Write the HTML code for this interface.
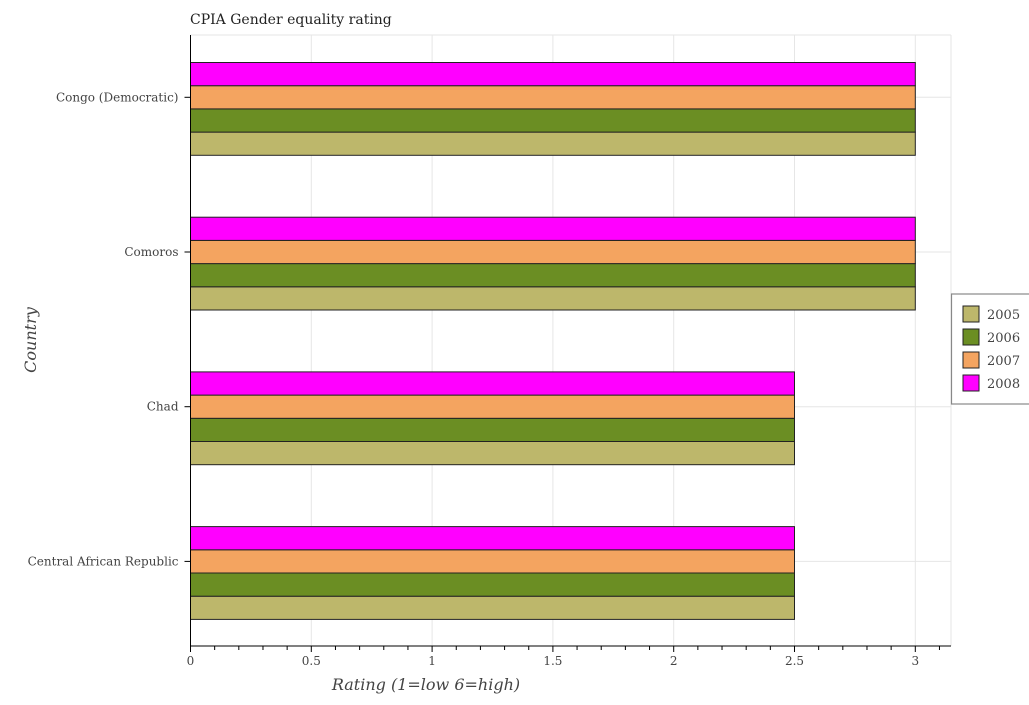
<!DOCTYPE html>
<html><head><meta charset="utf-8"><style>
body{margin:0;background:#fff;font-family:"Liberation Serif",serif;}
svg text{font-family:"DejaVu Serif","Liberation Serif",serif;fill:#444;}
</style></head><body>
<svg width="1029" height="700" xmlns="http://www.w3.org/2000/svg">
<text x="190" y="24" font-size="14" style="fill:#222">CPIA Gender equality rating</text>
<g id="grid"></g><g id="bars"></g><g id="axes"></g><g id="legend"></g>
<text x="426" y="690" font-size="16" font-style="italic" text-anchor="middle">Rating (1=low 6=high)</text>
<text x="36" y="340" font-size="16" font-style="italic" text-anchor="middle" transform="rotate(-90 36 340)">Country</text>
</svg>
<script>
const countries=["Congo (Democratic)","Comoros","Chad","Central African Republic"];
const years=["2005","2006","2007","2008"];
const v2005=[3,3,2.5,2.5];
const v2006=[3,3,2.5,2.5];
const v2007=[3,3,2.5,2.5];
const v2008=[3,3,2.5,2.5];
const xTicks=[0,0.5,1,1.5,2,2.5,3];
const xTickLabels=["0","0.5","1","1.5","2","2.5","3"];
const colors=["#bdb76b","#6b8e23","#f4a460","#ff00ff"];
const series=[v2005,v2006,v2007,v2008];
const NS="http://www.w3.org/2000/svg";
const X0=190.5,UNIT=241.6,TOP=35,BOT=646,RIGHT=951;
const x=v=>X0+v*UNIT;
const band=154.7;
const barH=23.2;
const tickY=i=>97.3+band*i;
function mk(t,a,p){const e=document.createElementNS(NS,t);for(const k in a)e.setAttribute(k,a[k]);p.appendChild(e);return e;}
const grid=document.getElementById('grid'),bars=document.getElementById('bars'),axes=document.getElementById('axes'),lg=document.getElementById('legend');
for(let v=0;v<=3.2;v+=0.5){if(x(v)<=RIGHT){const l=mk('line',{x1:x(v),x2:x(v),y1:TOP,y2:BOT,stroke:'#e6e6e6'},grid);

}}
mk('line',{x1:RIGHT,x2:RIGHT,y1:TOP,y2:BOT,stroke:'#e6e6e6'},grid);
mk('line',{x1:X0,x2:RIGHT,y1:TOP,y2:TOP,stroke:'#e6e6e6'},grid);
countries.forEach((c,i)=>{const l=mk('line',{x1:X0,x2:RIGHT,y1:tickY(i),y2:tickY(i),stroke:'#e6e6e6'},grid);


const g0=tickY(i)-1.5*barH;
for(let s=0;s<4;s++){const y=g0+(3-s)*barH;
const r=mk('rect',{x:X0,y:y,width:x(series[s][i])-X0,height:barH,fill:colors[s],stroke:'#222','stroke-width':1},bars);

}
mk('line',{x1:X0-6,x2:X0,y1:tickY(i),y2:tickY(i),stroke:'#000'},axes);
const t=mk('text',{x:X0-12,y:tickY(i)+4,'font-size':12,'text-anchor':'end'},axes);t.textContent=c;

});
mk('line',{x1:X0,x2:X0,y1:TOP,y2:BOT,stroke:'#000'},axes);
mk('line',{x1:X0,x2:RIGHT,y1:BOT,y2:BOT,stroke:'#000'},axes);
for(let v=0;v<=3.2;v+=0.1){if(x(v)<=RIGHT)mk('line',{x1:x(v),x2:x(v),y1:BOT,y2:BOT+(Math.abs(v*2-Math.round(v*2))<1e-6?6:4),stroke:'#000'},axes);}
xTicks.forEach((v,i)=>{const t=mk('text',{x:x(v),y:BOT+19,'font-size':12,'text-anchor':'middle'},axes);t.textContent=xTickLabels[i];

});
const box=mk('rect',{x:951.5,y:294,width:80,height:110,fill:'#fff',stroke:'#888','stroke-width':1.2},lg);


years.forEach((yr,s)=>{const y=306+s*23;
const r=mk('rect',{x:963,y:y,width:16,height:16,fill:colors[s],stroke:'#222'},lg);


const t=mk('text',{x:987,y:y+13,'font-size':13},lg);t.textContent=yr;

});
</script>
</body></html>
